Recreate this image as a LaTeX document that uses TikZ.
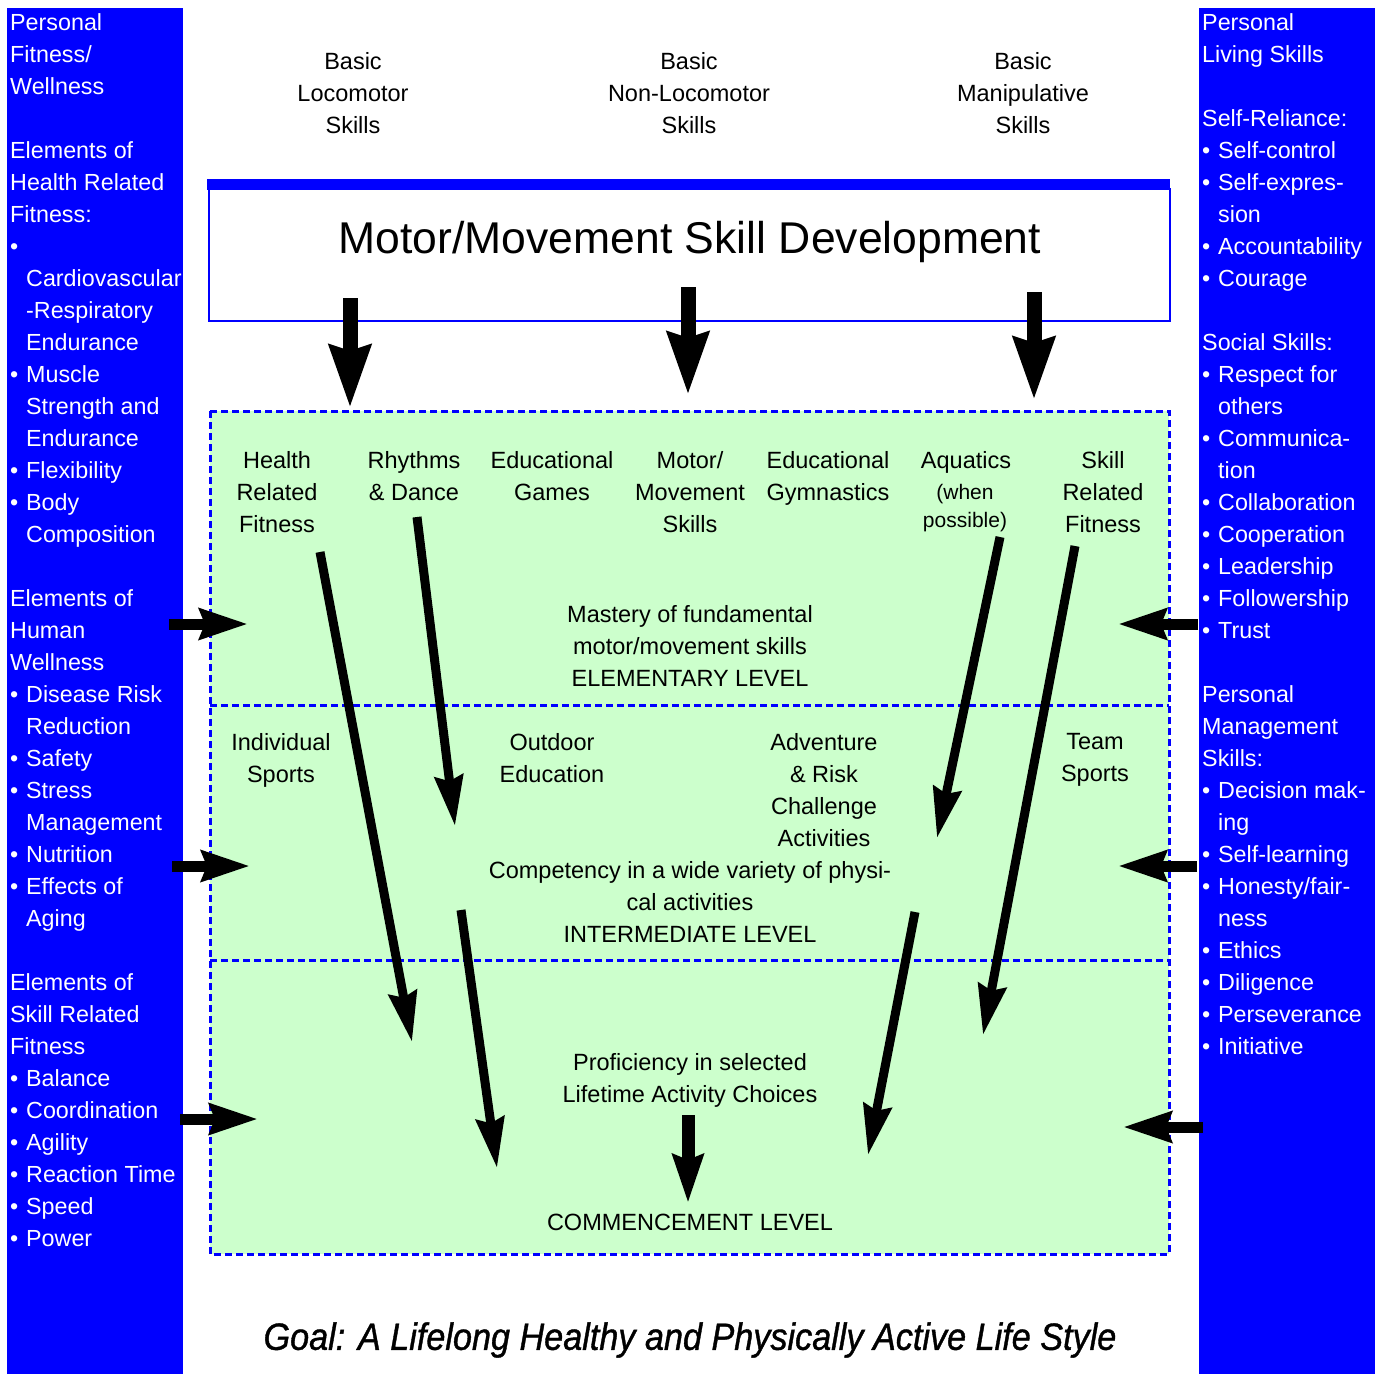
\documentclass[tikz,border=0pt]{standalone}
\usepackage{fontspec}
\setmainfont{Liberation Sans}
\newfontfamily\goalfont[FakeStretch=0.9,FakeBold=1]{Liberation Sans}
\usetikzlibrary{arrows.meta}
\definecolor{panelblue}{HTML}{0000FF}
\definecolor{levelgreen}{HTML}{CCFFCC}
\newcommand{\bul}{\makebox[16pt][l]{\textbullet}}
\newcommand{\ind}{\hspace*{16pt}}

\begin{document}
\begin{tikzpicture}[x=1pt,y=-1pt,
  txt/.style={font=\fontsize{23.5}{32}\selectfont,align=center,inner sep=0pt,anchor=north},
  side/.style={font=\fontsize{23.3}{32}\selectfont,align=left,inner sep=0pt,text=white,anchor=north west},
  down arrow/.style={line width=15pt,-{Stealth[length=62pt,width=40pt,inset=5pt]}},
  long arrow/.style={line width=9pt,-{Stealth[length=50pt,width=28pt,inset=5pt]}},
  side arrow/.style={line width=11pt,-{Stealth[length=48pt,width=30pt,inset=5pt]}}]

  \useasboundingbox (0,0) rectangle (1381,1374);

  % side panels
  \fill[panelblue] (7,8) rectangle (183,1374);
  \fill[panelblue] (1199,8) rectangle (1375,1374);

  \node[side] (leftPanel) at (10,13.8) {Personal\\Fitness/\\Wellness\\[32pt]
    Elements of\\Health Related\\Fitness:\\\bul\\\ind Cardiovascular\\\ind -Respiratory\\\ind Endurance\\
    \bul Muscle\\\ind Strength and\\\ind Endurance\\\bul Flexibility\\\bul Body\\\ind Composition\\[32pt]
    Elements of\\Human\\Wellness\\\bul Disease Risk\\\ind Reduction\\\bul Safety\\\bul Stress\\
    \ind Management\\\bul Nutrition\\\bul Effects of\\\ind Aging\\[32pt]
    Elements of\\Skill Related\\Fitness\\\bul Balance\\\bul Coordination\\\bul Agility\\
    \bul Reaction Time\\\bul Speed\\\bul Power};

  \node[side] (rightPanel) at (1202,13.8) {Personal\\Living Skills\\[32pt]
    Self-Reliance:\\\bul Self-control\\\bul Self-expres-\\\ind sion\\\bul Accountability\\\bul Courage\\[32pt]
    Social Skills:\\\bul Respect for\\\ind others\\\bul Communica-\\\ind tion\\\bul Collaboration\\
    \bul Cooperation\\\bul Leadership\\\bul Followership\\\bul Trust\\[32pt]
    Personal\\Management\\Skills:\\\bul Decision mak-\\\ind ing\\\bul Self-learning\\
    \bul Honesty/fair-\\\ind ness\\\bul Ethics\\\bul Diligence\\\bul Perseverance\\\bul Initiative};

  % basic skills
  \node[txt] (basicLoco) at (353,52.6) {Basic\\Locomotor\\Skills};
  \node[txt] (basicNonLoco) at (689,52.6) {Basic\\Non-Locomotor\\Skills};
  \node[txt] (basicManip) at (1023,52.6) {Basic\\Manipulative\\Skills};

  % motor box
  \draw[panelblue,line width=2.5pt,fill=white] (209,189) rectangle (1170,321);
  \fill[panelblue] (207,179) rectangle (1170,190);
  \node[inner sep=0pt,anchor=north,font=\fontsize{44.5}{50}\selectfont] (motorDev) at (690,221)
    {Motor/Movement Skill Development};

  % levels
  \fill[levelgreen] (210,411) rectangle (1169,1254);
  \draw[panelblue,line width=3pt,dash pattern=on 7pt off 4pt] (210,411) rectangle (1169,1254)
    (210,705) -- (1169,705) (210,960) -- (1169,960);

  \node[txt] (healthRel) at (277,451.6) {Health\\Related\\Fitness};
  \node[txt] (rhythms) at (414,451.6) {Rhythms\\\& Dance};
  \node[txt] (eduGames) at (552,451.6) {Educational\\Games};
  \node[txt] (motorSkills) at (690,451.6) {Motor/\\Movement\\Skills};
  \node[txt] (eduGym) at (828,451.6) {Educational\\Gymnastics};
  \node[txt] (aquatics) at (966,451.6) {Aquatics};
  \node[txt,anchor=center,font=\fontsize{21}{28}\selectfont] (aquaticsNote) at (965,508) {(when\\possible)};
  \node[txt] (skillRel) at (1103,451.6) {Skill\\Related\\Fitness};
  \node[txt] (mastery) at (690,605.6) {Mastery of fundamental\\motor/movement skills\\ELEMENTARY LEVEL};

  \node[txt] (indivSports) at (281,733.6) {Individual\\Sports};
  \node[txt] (outdoorEd) at (552,733.6) {Outdoor\\Education};
  \node[txt] (adventure) at (824,733.6) {Adventure\\\& Risk\\Challenge\\Activities};
  \node[txt] (teamSports) at (1095,733.6) {Team\\Sports};
  \node[txt] (competency) at (690,861.6) {Competency in a wide variety of physi-\\cal activities\\INTERMEDIATE LEVEL};

  \node[txt] (proficiency) at (690,1053.6) {Proficiency in selected\\Lifetime Activity Choices};
  \node[txt] (commence) at (690,1213.6) {COMMENCEMENT LEVEL};

  \node[inner sep=0pt,font=\goalfont\itshape\fontsize{38}{44}\selectfont] (goal) at (690,1340)
    {Goal: A Lifelong Healthy and Physically Active Life Style};

  % arrow ends
  \coordinate (t1) at (350,298); \coordinate (t1e) at (350,408);
  \coordinate (t2) at (688,287); \coordinate (t2e) at (688,395);
  \coordinate (t3) at (1034,292); \coordinate (t3e) at (1034,400);
  \coordinate (a1) at (320,552); \coordinate (a1e) at (412,1042);
  \coordinate (a2) at (417,517); \coordinate (a2e) at (455,826);
  \coordinate (a3) at (461,910); \coordinate (a3e) at (497,1168);
  \coordinate (a4) at (1000,537); \coordinate (a4e) at (937,838);
  \coordinate (a5) at (1075,546); \coordinate (a5e) at (983,1035);
  \coordinate (a6) at (915,912); \coordinate (a6e) at (868,1155);
  \coordinate (c1) at (688,1115); \coordinate (c1e) at (688,1203);
  \coordinate (l1) at (169,624); \coordinate (l1e) at (248,624);
  \coordinate (l2) at (172,866); \coordinate (l2e) at (250,866);
  \coordinate (l3) at (180,1119); \coordinate (l3e) at (258,1119);
  \coordinate (r1) at (1198,624); \coordinate (r1e) at (1118,624);
  \coordinate (r2) at (1197,866); \coordinate (r2e) at (1118,866);
  \coordinate (r3) at (1203,1127); \coordinate (r3e) at (1123,1127);

  \draw[down arrow] (t1) -- (t1e);
  \draw[down arrow] (t2) -- (t2e);
  \draw[down arrow] (t3) -- (t3e);
  \draw[long arrow] (a1) -- (a1e);
  \draw[long arrow] (a2) -- (a2e);
  \draw[long arrow] (a3) -- (a3e);
  \draw[long arrow] (a4) -- (a4e);
  \draw[long arrow] (a5) -- (a5e);
  \draw[long arrow] (a6) -- (a6e);
  \draw[side arrow,line width=13pt] (c1) -- (c1e);
  \draw[side arrow] (l1) -- (l1e);
  \draw[side arrow] (l2) -- (l2e);
  \draw[side arrow] (l3) -- (l3e);
  \draw[side arrow] (r1) -- (r1e);
  \draw[side arrow] (r2) -- (r2e);
  \draw[side arrow] (r3) -- (r3e);
\end{tikzpicture}
\end{document}
